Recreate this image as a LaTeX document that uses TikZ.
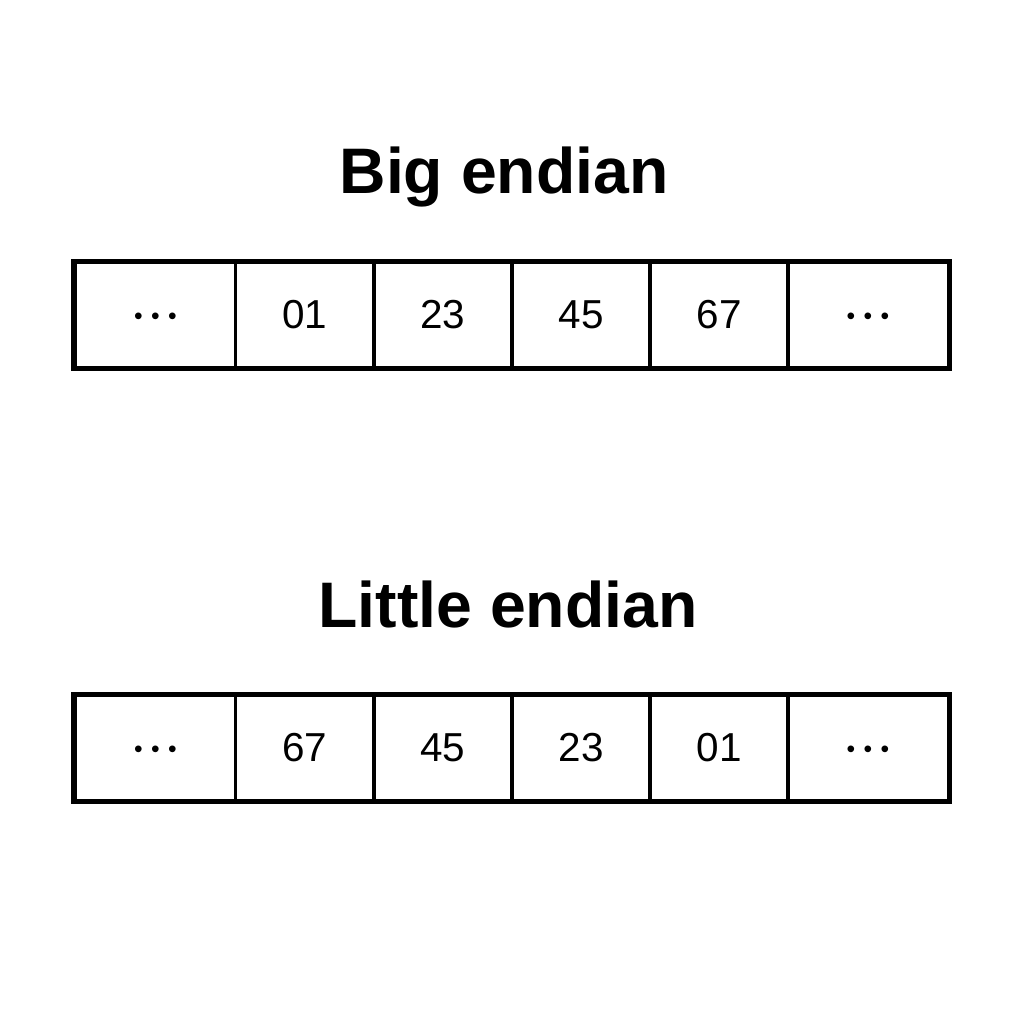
\documentclass[tikz,border=0pt]{standalone}
\usepackage{fontspec}
\setmainfont{Liberation Sans}
\newcommand{\celldots}{\raisebox{-2.6pt}[0pt][0pt]{\fontsize{7}{7}\selectfont •\hspace{2.4pt}•\hspace{2.4pt}•}}
\tikzset{
	cell/.style={draw, black, line width=0.85pt, minimum width=1.38cm, minimum height=1.04cm, inner sep=0pt, font=\fontsize{11.5}{14}\selectfont},
	endcell/.style={cell, minimum width=1.6cm},
	title/.style={anchor=base, font=\fontsize{18.3}{22}\selectfont\bfseries}
}
\begin{document}
\begin{tikzpicture}[x=0.01cm, y=-0.01cm]
			\useasboundingbox (0, 0) rectangle (1024, 1024);

			% big endian
			\node[title] (bigtitle) at (504, 193) {Big endian};
			\node[endcell]	(b0) at (155.5, 315) {\celldots};
			\node[cell]		(b1) at (305, 315) {01};
			\node[cell]		(b2) at (443, 315) {23};
			\node[cell]		(b3) at (581, 315) {45};
			\node[cell]		(b4) at (719, 315) {67};
			\node[endcell]	(b5) at (868, 315) {\celldots};
			\draw[black, line width=1.4pt] (b0.north west) rectangle (b5.south east);

			% little endian
			\node[title] (littletitle) at (508, 627) {Little endian};
			\node[endcell]	(l0) at (155.5, 748) {\celldots};
			\node[cell]		(l1) at (305, 748) {67};
			\node[cell]		(l2) at (443, 748) {45};
			\node[cell]		(l3) at (581, 748) {23};
			\node[cell]		(l4) at (719, 748) {01};
			\node[endcell]	(l5) at (868, 748) {\celldots};
			\draw[black, line width=1.4pt] (l0.north west) rectangle (l5.south east);
		\end{tikzpicture}
\end{document}
